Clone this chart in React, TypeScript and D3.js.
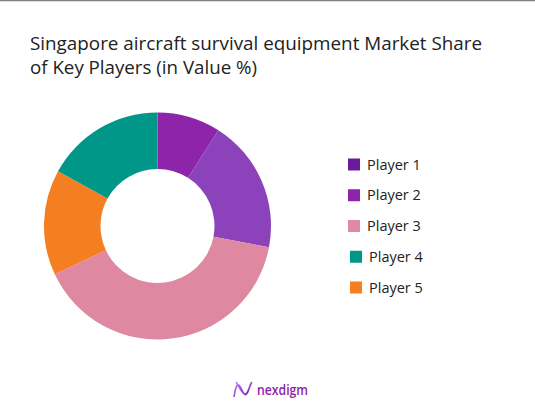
import React from "react";
import * as d3 from "d3";

const players = ["Player 1", "Player 2", "Player 3", "Player 4", "Player 5"];
const shares = [9, 19, 40, 17, 15];
const legendColors = ["#6a1b9a", "#8e24aa", "#e08aa2", "#009688", "#f57f20"];
const sliceColors = ["#8e24aa", "#8b42ba", "#de89a1", "#009688", "#f47f22"];
// clockwise drawing order of the slices, starting at 12 o'clock
const drawOrder = [0, 1, 2, 4, 3];
const titleLines = [
  "Singapore aircraft survival equipment Market Share",
  "of Key Players (in Value %)",
];

const W = 535;
const H = 405;

export default function App() {
  const cx = 157.5;
  const cy = 226;
  const outerR = 113.5;
  const innerR = 57;

  const ordered = drawOrder.map((i) => ({ i, v: shares[i] }));
  const pie = d3
    .pie<{ i: number; v: number }>()
    .value((d) => d.v)
    .sort(null);
  const arcs = pie(ordered);
  const arc = d3
    .arc<d3.PieArcDatum<{ i: number; v: number }>>()
    .innerRadius(innerR)
    .outerRadius(outerR);

  const legendY = d3.scalePoint<number>().domain([0, 1, 2, 3, 4]).range([164.5, 287.5]);
  const titleWidths = [452, 227];

  return (
    <div style={{ position: "fixed", left: 0, top: 0, width: W, height: H, background: "#fff" }}>
      <svg width={W} height={H} style={{ display: "block" }}>
        <defs>
          <linearGradient id="logoGrad" x1="0" y1="0" x2="1" y2="1">
            <stop offset="0" stopColor="#c77dff" />
            <stop offset="1" stopColor="#6a1b9a" />
          </linearGradient>
        </defs>
        <rect x={0} y={0} width={W} height={H} fill="#fff" />
        <line x1={0} x2={W} y1={0.5} y2={0.5} stroke="#808080" strokeWidth={1.5} />
        <g fontFamily="'Open Sans', sans-serif" fill="#222">
          {titleLines.map((t, k) => (
            <text key={k} x={30} y={50 + k * 24} fontSize={17.5} textLength={titleWidths[k]} lengthAdjust="spacingAndGlyphs">
              {t}
            </text>
          ))}
        </g>
        <g transform={`translate(${cx},${cy})`}>
          {arcs.map((a) => (
            <path key={a.data.i} d={arc(a) || ""} fill={sliceColors[a.data.i]} />
          ))}
        </g>
        <g fontFamily="'Open Sans', sans-serif" fontSize={14.5} fill="#222">
          {players.map((p, i) => {
            const off = i >= 3 ? 2 : 0;
            const y = legendY(i) as number;
            return (
              <g key={p}>
                <rect x={348 + off} y={y - 6} width={12} height={12} fill={legendColors[i]} />
                <text x={367 + off} y={y + 5}>
                  {p}
                </text>
              </g>
            );
          })}
        </g>
        <g>
          <path
            d="M234,397 C236,384 238,382 241,388 C244,395 246,398 249,389 C250,385 251,383 252,382 M236,382 C239,386 242,394 245,394 C248,394 249,387 251,384"
            fill="none"
            stroke="url(#logoGrad)"
            strokeWidth={1.6}
          />
          <text x={257} y={395} fontFamily="'Open Sans', sans-serif" fontWeight={600} fontSize={13.5} fill="#8e24aa" textLength={51} lengthAdjust="spacingAndGlyphs">
            nexdigm
          </text>
        </g>
      </svg>
    </div>
  );
}
